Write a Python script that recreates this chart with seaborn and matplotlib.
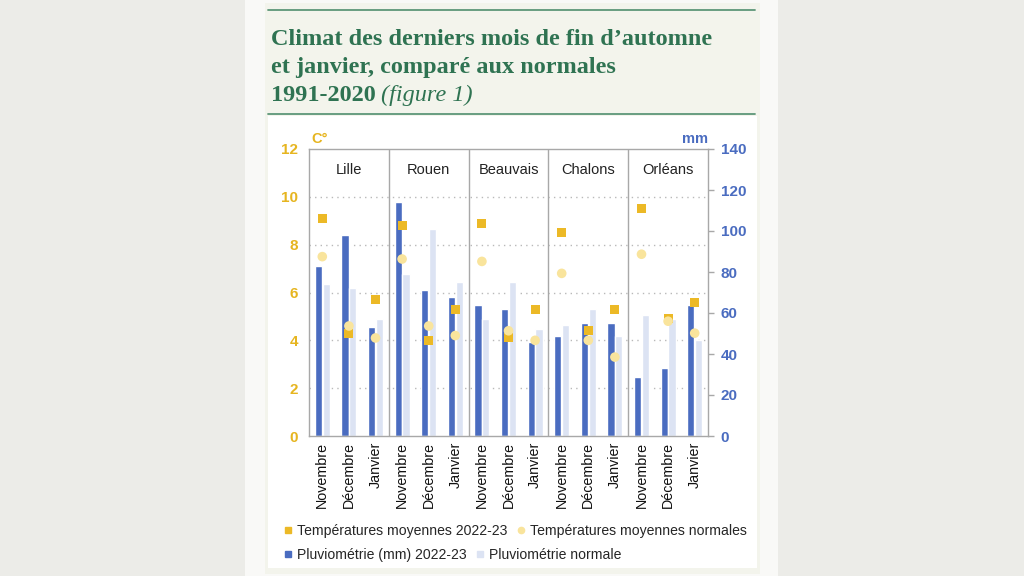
import numpy as np
import pandas as pd
import matplotlib
matplotlib.use("Agg")
import matplotlib.pyplot as plt
import seaborn as sns
from matplotlib.patches import Rectangle
from matplotlib.lines import Line2D

# ---------------- data ----------------
cities = ["Lille", "Rouen", "Beauvais", "Chalons", "Orléans"]
months = ["Novembre", "Décembre", "Janvier"]
temp_2022 = [9.1, 4.3, 5.7, 8.8, 4.0, 5.3, 8.9, 4.1, 5.3, 8.5, 4.4, 5.3, 9.5, 4.9, 5.6]
temp_norm = [7.5, 4.6, 4.1, 7.4, 4.6, 4.2, 7.3, 4.4, 4.0, 6.8, 4.0, 3.3, 7.6, 4.8, 4.3]
rain_2022 = [83, 98, 53, 114, 71, 68, 64, 62, 46, 49, 55, 55, 29, 33, 64]
rain_norm = [74, 72, 57, 79, 101, 75, 57, 75, 52, 54, 62, 49, 59, 57, 47]
temp_ticks = [0, 2, 4, 6, 8, 10, 12]
rain_ticks = [0, 20, 40, 60, 80, 100, 120, 140]
labels_legend = ["Températures moyennes 2022-23", "Températures moyennes normales",
                 "Pluviométrie (mm) 2022-23", "Pluviométrie normale"]

# ---------------- style ----------------
sns.set_style("white")
plt.rcParams["font.family"] = ["Liberation Sans", "DejaVu Sans"]

W, H = 1024, 576
C_BLUE = "#4a6cc0"
C_LBLUE = "#dce3f3"
C_SQ = "#ecb926"
C_CIRC = "#f9e49c"
C_YTXT = "#e6b520"
C_BTXT = "#4a6cc0"
C_GREEN = "#2f7352"
C_LINE = "#5d9678"
C_SPINE = "#a8a8a8"

fig = plt.figure(figsize=(W / 100, H / 100), dpi=100)
fig.patch.set_facecolor("#ececE8")


def frect(x0, y0, x1, y1, color, z=0):
    fig.add_artist(Rectangle((x0 / W, 1 - y1 / H), (x1 - x0) / W, (y1 - y0) / H,
                             transform=fig.transFigure, facecolor=color,
                             edgecolor="none", zorder=z))


frect(245, 0, 778, 576, "#f9f9f7")
frect(265, 3, 760, 574, "#f3f4ec")
frect(268, 116, 757, 568, "#ffffff")
for yy in (10, 114):
    fig.add_artist(Line2D([268 / W, 755 / W], [1 - yy / H, 1 - yy / H],
                          transform=fig.transFigure, color=C_LINE, lw=1.3))

# ---------------- title ----------------
tfont = dict(family="Liberation Serif", weight="bold", color=C_GREEN, fontsize=17.5)
fig.text(271 / W, 1 - 45 / H, "Climat des derniers mois de fin d\u2019automne", va="baseline", **tfont)
fig.text(271 / W, 1 - 73 / H, "et janvier, comparé aux normales", va="baseline", **tfont)
t3 = fig.text(271 / W, 1 - 101 / H, "1991-2020", va="baseline", **tfont)
fig.canvas.draw()
bb = t3.get_window_extent(fig.canvas.get_renderer())
fig.text(bb.x1 / W + 5 / W, 1 - 101 / H, "(figure 1)", va="baseline",
         family="Liberation Serif", style="italic", color=C_GREEN, fontsize=17.5)

# ---------------- data frames ----------------
slots = [f"{c}-{m}" for c in cities for m in months]
df_rain = pd.DataFrame({
    "slot": slots * 2,
    "mm": rain_2022 + rain_norm,
    "serie": ["Pluviométrie (mm) 2022-23"] * 15 + ["Pluviométrie normale"] * 15,
})
xpos = np.arange(len(slots))

# ---------------- axes ----------------
ax = fig.add_axes([309 / W, 1 - 436 / H, 399 / W, 287 / H])
ax.set_facecolor("white")
sns.barplot(data=df_rain, x="slot", y="mm", hue="serie", order=slots,
            hue_order=["Pluviométrie (mm) 2022-23", "Pluviométrie normale"],
            palette=[C_BLUE, C_LBLUE], saturation=1, width=0.6, gap=0.1,
            legend=False, ax=ax, zorder=2)
ax.set_xlim(-0.5, len(slots) - 0.5)
ax.set_ylim(0, 140)

ax2 = ax.twinx()
ax2.set_ylim(0, 12)
sns.scatterplot(x=xpos, y=temp_2022, marker="s", s=42, color=C_SQ, edgecolor="none",
                ax=ax2, zorder=4, legend=False)
sns.scatterplot(x=xpos, y=temp_norm, marker="o", s=48, color=C_CIRC, edgecolor="none",
                ax=ax2, zorder=5, legend=False)
ax2.set_xlim(-0.5, len(slots) - 0.5)

# gridlines (temperature scale)
for t in temp_ticks[1:-1]:
    ax.axhline(t * 140 / 12, color="#b9b9b9", lw=1, ls=(0, (1, 3)), zorder=0.5)
# city separators
for i in range(1, len(cities)):
    ax.axvline(3 * i - 0.5, color=C_SPINE, lw=1, zorder=3)
# city names
for i, c in enumerate(cities):
    ax.text(3 * i + 1, 0.927, c, transform=ax.get_xaxis_transform(), ha="center",
            va="center", fontsize=10.5, color="#222222")

# axis styling
ax.yaxis.tick_right()
ax.set_yticks(rain_ticks)
ax.set_yticklabels([str(v) for v in rain_ticks], color=C_BTXT, fontweight="bold", fontsize=11)
ax.tick_params(axis="y", right=True, left=False, length=4, width=1, color=C_SPINE, pad=5)
ax.set_xticks(xpos)
ax.set_xticklabels(months * len(cities), rotation=90, fontsize=10.3, color="#111111")
ax.tick_params(axis="x", length=0, pad=4)
ax.set_xlabel("")
ax.set_ylabel("")
for s in ax.spines.values():
    s.set_color(C_SPINE)
    s.set_linewidth(1)
    s.set_visible(True)

ax2.yaxis.tick_left()
ax2.set_yticks(temp_ticks)
ax2.set_yticklabels([str(v) for v in temp_ticks], color=C_YTXT, fontweight="bold", fontsize=11)
ax2.tick_params(axis="y", left=False, right=False, length=0, pad=8)
ax2.set_ylabel("")
for s in ax2.spines.values():
    s.set_visible(False)

ax.text(0.005, 1.022, "C°", transform=ax.transAxes, ha="left", va="baseline",
        color=C_YTXT, fontweight="bold", fontsize=10.5)
ax.text(1.0, 1.022, "mm", transform=ax.transAxes, ha="right", va="baseline",
        color=C_BTXT, fontweight="bold", fontsize=10.5)

# ---------------- legend ----------------
h1 = [Line2D([], [], marker="s", ls="none", color=C_SQ, markersize=4.5),
      Line2D([], [], marker="o", ls="none", color=C_CIRC, markersize=4.5)]
h2 = [Line2D([], [], marker="s", ls="none", color=C_BLUE, markersize=4.5),
      Line2D([], [], marker="s", ls="none", color=C_LBLUE, markersize=4.5)]
common = dict(loc="center left", ncol=2, frameon=False, fontsize=10.1,
              handlelength=0.5, handletextpad=0.4, columnspacing=0.75,
              borderpad=0, borderaxespad=0)
fig.legend(h1, labels_legend[:2], bbox_to_anchor=(284 / W, 1 - 531 / H), **common)
fig.legend(h2, labels_legend[2:], bbox_to_anchor=(284 / W, 1 - 555 / H), **common)

fig.savefig("out.png", dpi=100, facecolor=fig.get_facecolor())
